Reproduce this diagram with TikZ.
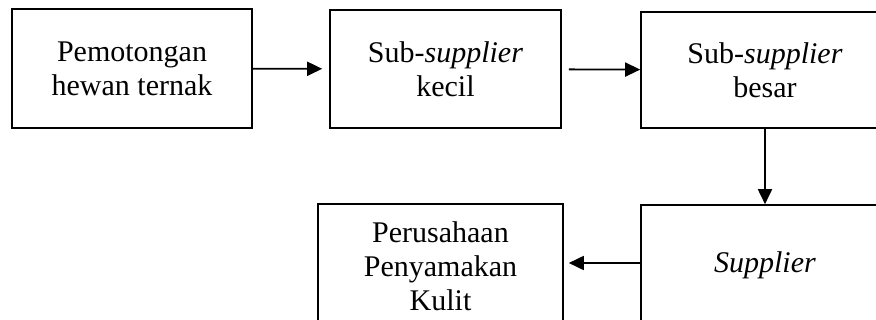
\documentclass[tikz,border=0pt]{standalone}
\usepackage{fontspec}
\setmainfont{Liberation Serif}
\usetikzlibrary{arrows.meta}
\tikzset{
    box/.style={draw, line width=1.6pt, align=center, inner sep=0pt,
        font=\fontsize{30}{34}\selectfont},
    arr/.style={-{Triangle[length=15pt,width=14pt]}, line width=1.8pt}
}
\begin{document}
\begin{tikzpicture}[x=1pt, y=-1pt]
    \useasboundingbox (0,0) rectangle (876,320);
    \clip (0,0) rectangle (876,320);

    \node[box, minimum width=240pt, minimum height=119pt] (pemotongan) at (132,68.5) {Pemotongan\\hewan ternak};
    \node[box, minimum width=231pt, minimum height=118pt] (subkecil) at (445.5,69) {Sub-\textit{supplier}\\kecil};
    \node[box, minimum width=248pt, minimum height=116pt] (subbesar) at (765,70) {Sub-\textit{supplier}\\besar};
    \node[box, minimum width=248pt, minimum height=120pt] (supplier) at (765,265) {\textit{Supplier}};
    \node[box, minimum width=245pt, minimum height=124pt] (perusahaan) at (440.5,266) {Perusahaan\\Penyamakan\\Kulit};

    \draw[arr, shorten >=7pt] (pemotongan) -- (subkecil);
    \draw[arr, shorten <=7pt] (subkecil) -- (subbesar);
    \draw[arr] (subbesar) -- (supplier);
    \draw[arr, shorten >=5pt] (supplier.west |- 0,263) -- (perusahaan.east |- 0,263);
\end{tikzpicture}
\end{document}
